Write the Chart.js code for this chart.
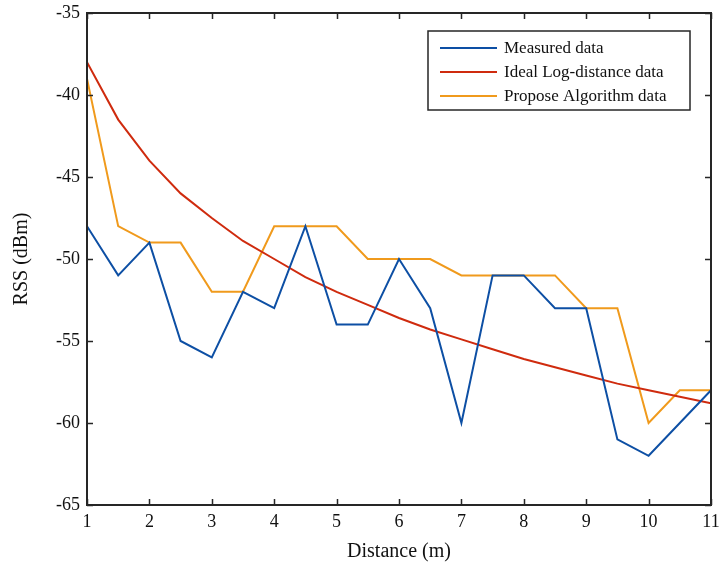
<!DOCTYPE html>
<html>
<head>
<meta charset="utf-8">
<script src="https://cdn.jsdelivr.net/npm/chart.js@4"></script>
<style>
  html, body { margin: 0; padding: 0; background: #fff; }
  #wrap { width: 724px; height: 568px; position: relative; }
</style>
</head>
<body>
<div id="wrap"><canvas id="rss" width="724" height="568"></canvas></div>
<script>
// distances (m), sampled every 0.5 m
const distances = [1, 1.5, 2, 2.5, 3, 3.5, 4, 4.5, 5, 5.5, 6, 6.5, 7, 7.5, 8, 8.5, 9, 9.5, 10, 10.5, 11];
const measured = [-48, -51, -49, -55, -56, -52, -53, -48, -54, -54, -50, -53, -60, -51, -51, -53, -53, -61, -62, -60, -58];
const idealLog = [-38, -41.5, -44, -46, -47.5, -48.9, -50, -51.1, -52, -52.8, -53.6, -54.3, -54.9, -55.5, -56.1, -56.6, -57.1, -57.6, -58, -58.4, -58.8];
const proposed = [-39, -48, -49, -49, -52, -52, -48, -48, -48, -50, -50, -50, -51, -51, -51, -51, -53, -53, -60, -58, -58];
const seriesNames = ['Measured data', 'Ideal Log-distance data', 'Propose Algorithm data'];
const xTicks = [1, 2, 3, 4, 5, 6, 7, 8, 9, 10, 11];
const yTicks = [-35, -40, -45, -50, -55, -60, -65];

const FONT = '"Liberation Serif", "Times New Roman", serif';
const colors = ['#0d4fa4', '#cf2b0e', '#f09a1c'];

function pts(vals) { return distances.map((d, i) => ({ x: d, y: vals[i] })); }

// frame, inward ticks and boxed legend, drawn from the chart's own scales
const frameAndLegend = {
    id: 'frameAndLegend',
    afterDraw(chart) {
        const ctx = chart.ctx;
        const a = chart.chartArea;
        const xs = chart.scales.x, ys = chart.scales.y;
        ctx.save();
        ctx.strokeStyle = '#262626';
        ctx.lineWidth = 2;
        ctx.strokeRect(a.left, a.top, a.right - a.left, a.bottom - a.top);
        ctx.lineWidth = 1.5;
        ctx.beginPath();
        xTicks.forEach(v => {
            const px = Math.round(xs.getPixelForValue(v)) + 0.5;
            ctx.moveTo(px, a.bottom); ctx.lineTo(px, a.bottom - 6);
            ctx.moveTo(px, a.top); ctx.lineTo(px, a.top + 6);
        });
        yTicks.forEach(v => {
            const py = Math.round(ys.getPixelForValue(v)) + 0.5;
            ctx.moveTo(a.left, py); ctx.lineTo(a.left + 6, py);
            ctx.moveTo(a.right, py); ctx.lineTo(a.right - 6, py);
        });
        ctx.stroke();

        // legend box
        const bx = 428, by = 31, bw = 262, bh = 79;
        ctx.fillStyle = '#fff';
        ctx.fillRect(bx, by, bw, bh);
        ctx.strokeStyle = '#262626';
        ctx.lineWidth = 1.5;
        ctx.strokeRect(bx, by, bw, bh);
        ctx.font = '17px ' + FONT;
        ctx.textBaseline = 'middle';
        ctx.textAlign = 'left';
        chart.data.datasets.forEach((ds, i) => {
            const y = 48 + i * 24;
            ctx.strokeStyle = ds.borderColor;
            ctx.lineWidth = 2;
            ctx.beginPath();
            ctx.moveTo(440, y); ctx.lineTo(497, y);
            ctx.stroke();
            ctx.fillStyle = '#111';
            ctx.fillText(ds.label, 504, y + 1);
        });
        ctx.restore();
    }
};

new Chart(document.getElementById('rss'), {
    type: 'line',
    data: {
        datasets: [
            { label: seriesNames[0], data: pts(measured), borderColor: colors[0], borderWidth: 2, pointRadius: 0, tension: 0 },
            { label: seriesNames[1], data: pts(idealLog), borderColor: colors[1], borderWidth: 2, pointRadius: 0, tension: 0 },
            { label: seriesNames[2], data: pts(proposed), borderColor: colors[2], borderWidth: 2, pointRadius: 0, tension: 0 }
        ]
    },
    options: {
        responsive: false,
        animation: false,
        events: [],
        layout: { padding: { left: 0, right: 13, top: 13, bottom: 0 } },
        plugins: { legend: { display: false }, tooltip: { enabled: false } },
        scales: {
            x: {
                type: 'linear', min: 1, max: 11,
                afterBuildTicks(s) { s.ticks = xTicks.map(v => ({ value: v })); },
                afterFit(s) { s.height = 63; s.paddingLeft = 0; s.paddingRight = 0; },
                grid: { display: false, drawTicks: false },
                border: { display: false },
                ticks: { color: '#111', font: { family: FONT, size: 18 }, padding: 6, maxRotation: 0 },
                title: { display: true, text: 'Distance (m)', color: '#111', font: { family: FONT, size: 20 }, padding: { top: 10 } }
            },
            y: {
                type: 'linear', min: -65, max: -35,
                afterBuildTicks(s) { s.ticks = yTicks.map(v => ({ value: v })); },
                afterFit(s) { s.width = 87; s.paddingTop = 0; s.paddingBottom = 0; },
                grid: { display: false, drawTicks: false },
                border: { display: false },
                ticks: { color: '#111', font: { family: FONT, size: 18 }, padding: 7 },
                title: { display: true, text: 'RSS (dBm)', color: '#111', font: { family: FONT, size: 20 }, padding: { top: 10, bottom: 0 } }
            }
        }
    },
    plugins: [frameAndLegend]
});
</script>
</body>
</html>
